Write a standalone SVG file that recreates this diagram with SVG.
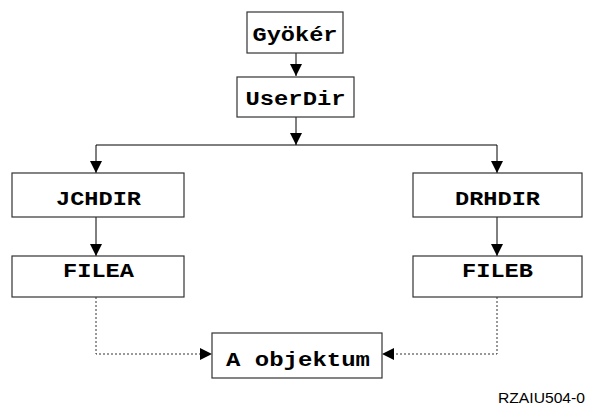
<svg xmlns="http://www.w3.org/2000/svg" width="591" height="413" viewBox="0 0 591 413">
  <defs>
    <marker id="head" markerWidth="12" markerHeight="12" viewBox="0 0 12 12" refX="12" refY="6" orient="auto" markerUnits="userSpaceOnUse">
      <path d="M0,0 L12,6 L0,12 Z" fill="#000"/>
    </marker>
    <style>
      .box { fill: #fff; stroke: #333; stroke-width: 1.2; }
      .lbl { font-family: "Liberation Mono", "Courier New", monospace; font-weight: bold; font-size: 20px; fill: #000; text-anchor: middle; }
      .wire { fill: none; stroke: #000; stroke-width: 1; }
      .dot { fill: none; stroke: #333; stroke-width: 1; stroke-dasharray: 2 2; }
      .tag { font-family: "Liberation Sans", Arial, sans-serif; font-size: 14px; fill: #000; }
    </style>
  </defs>
  <rect width="591" height="413" fill="#fff"/>

  <g id="connectors">
    <path class="wire" d="M296,53 V76" marker-end="url(#head)"/>
    <path class="wire" d="M296,117 V145"  marker-end="url(#head)"/>
    <path class="wire" d="M96,145 H497"/>
    <path class="wire" d="M96,145 V173" marker-end="url(#head)"/>
    <path class="wire" d="M497,145 V173" marker-end="url(#head)"/>
    <path class="wire" d="M96,217 V256" marker-end="url(#head)"/>
    <path class="wire" d="M497,217 V256" marker-end="url(#head)"/>
    <path class="dot" d="M96,297 V354 H200"/>
    <path d="M200,348 L212,354 L200,360 Z" fill="#000"/>
    <path class="dot" d="M497,297 V354 H394"/>
    <path d="M394,348 L382,354 L394,360 Z" fill="#000"/>
  </g>

  <g id="gyoker">
    <rect class="box" x="247" y="12" width="96" height="41"/>
    <text class="lbl" x="295" y="40.5" textLength="85" lengthAdjust="spacingAndGlyphs">Gyökér</text>
  </g>
  <g id="userdir">
    <rect class="box" x="237" y="77" width="117" height="40"/>
    <text class="lbl" x="295.5" y="105" textLength="100" lengthAdjust="spacingAndGlyphs">UserDir</text>
  </g>
  <g id="jchdir">
    <rect class="box" x="12" y="173" width="172" height="44"/>
    <text class="lbl" x="98.5" y="205" textLength="85" lengthAdjust="spacingAndGlyphs">JCHDIR</text>
  </g>
  <g id="drhdir">
    <rect class="box" x="413" y="173" width="169" height="44"/>
    <text class="lbl" x="497.5" y="205" textLength="85" lengthAdjust="spacingAndGlyphs">DRHDIR</text>
  </g>
  <g id="filea">
    <rect class="box" x="12" y="256" width="172" height="41"/>
    <text class="lbl" x="98.5" y="277" textLength="71" lengthAdjust="spacingAndGlyphs">FILEA</text>
  </g>
  <g id="fileb">
    <rect class="box" x="413" y="256" width="169" height="41"/>
    <text class="lbl" x="497.5" y="277" textLength="71" lengthAdjust="spacingAndGlyphs">FILEB</text>
  </g>
  <g id="objektum">
    <rect class="box" x="212" y="333" width="170" height="45"/>
    <text class="lbl" x="298" y="366" textLength="144" lengthAdjust="spacingAndGlyphs">A objektum</text>
  </g>

  <text class="tag" x="498" y="403" textLength="87" lengthAdjust="spacingAndGlyphs">RZAIU504-0</text>
</svg>
